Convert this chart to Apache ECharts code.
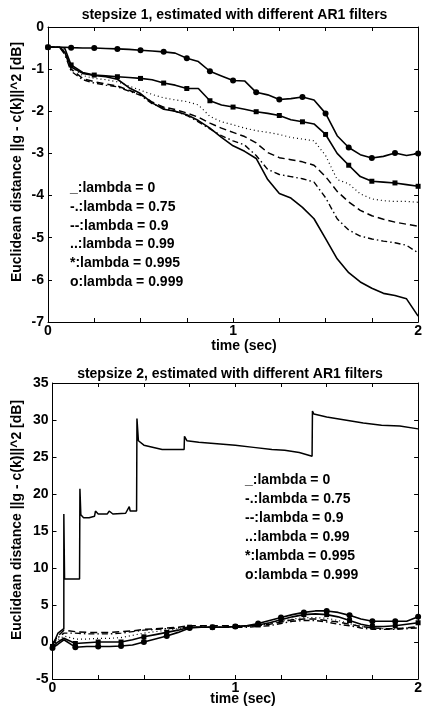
<!DOCTYPE html>
<html>
<head>
<meta charset="utf-8">
<script src="https://cdn.jsdelivr.net/npm/echarts@6/dist/echarts.min.js"></script>
<style>
  html, body { margin: 0; padding: 0; background: #fff; }
  #chart { width: 425px; height: 715px; }
</style>
</head>
<body>
<div id="chart"></div>
<script>
// ---- top panel: stepsize 1 ----
var time1 = [0, 0.0625, 0.09, 0.125, 0.1875, 0.25, 0.3125, 0.375, 0.4375, 0.5, 0.5625, 0.625, 0.6875, 0.75, 0.8125, 0.875, 0.9375,
  1.0, 1.0625, 1.125, 1.1875, 1.25, 1.3125, 1.375, 1.4375, 1.5, 1.5625, 1.625, 1.6875, 1.75, 1.8125, 1.875, 1.9375, 2.0];
var top0 = [-0.48, -0.48, -0.6, -0.95, -1.10, -1.15, -1.18, -1.24, -1.44, -1.58, -1.80, -1.95, -2.0, -2.08, -2.22, -2.40, -2.62,
  -2.82, -2.95, -3.12, -3.62, -3.95, -4.06, -4.28, -4.55, -5.02, -5.50, -5.83, -6.05, -6.20, -6.32, -6.37, -6.45, -6.86];
var top075 = [-0.48, -0.48, -0.65, -1.05, -1.25, -1.33, -1.38, -1.42, -1.52, -1.62, -1.82, -1.92, -2.0, -2.1, -2.25, -2.42, -2.58,
  -2.70, -2.80, -3.05, -3.38, -3.50, -3.55, -3.60, -3.68, -4.05, -4.55, -4.82, -4.96, -5.03, -5.08, -5.12, -5.18, -5.36];
var top09 = [-0.48, -0.48, -0.6, -1.0, -1.22, -1.30, -1.35, -1.40, -1.50, -1.60, -1.78, -1.90, -1.96, -2.04, -2.14, -2.28, -2.40,
  -2.50, -2.60, -2.75, -2.98, -3.10, -3.15, -3.20, -3.28, -3.55, -3.90, -4.15, -4.35, -4.48, -4.56, -4.63, -4.68, -4.73];
var top099 = [-0.48, -0.48, -0.55, -0.95, -1.15, -1.22, -1.25, -1.30, -1.40, -1.50, -1.60, -1.68, -1.73, -1.77, -1.85, -2.12, -2.25,
  -2.32, -2.40, -2.46, -2.50, -2.55, -2.62, -2.66, -2.70, -3.05, -3.62, -3.72, -3.96, -4.08, -4.12, -4.14, -4.14, -4.16];
var top0995 = [-0.48, -0.48, -0.5, -0.90, -1.08, -1.14, -1.16, -1.18, -1.20, -1.22, -1.25, -1.33, -1.38, -1.46, -1.46, -1.75, -1.85,
  -1.90, -1.95, -2.01, -2.05, -2.10, -2.20, -2.25, -2.30, -2.55, -3.00, -3.28, -3.55, -3.66, -3.68, -3.70, -3.74, -3.78];
var top0999 = [-0.48, -0.48, -0.48, -0.49, -0.50, -0.50, -0.51, -0.52, -0.53, -0.55, -0.57, -0.59, -0.62, -0.74, -0.82, -1.05, -1.16,
  -1.27, -1.28, -1.55, -1.61, -1.72, -1.70, -1.66, -1.73, -2.05, -2.58, -2.86, -3.03, -3.11, -3.07, -2.99, -3.05, -3.0];

// ---- bottom panel: stepsize 2 ----
var time2 = [0, 0.03, 0.0625, 0.125, 0.1875, 0.25, 0.3125, 0.375, 0.4375, 0.5, 0.5625, 0.625, 0.6875, 0.75, 0.8125, 0.875, 0.9375,
  1.0, 1.0625, 1.125, 1.1875, 1.25, 1.3125, 1.375, 1.4375, 1.5, 1.5625, 1.625, 1.6875, 1.75, 1.8125, 1.875, 1.9375, 2.0];
var bot075 = [-0.3, 0.6, 1.2, 1.2, 1.1, 1.1, 1.1, 1.2, 1.4, 1.6, 1.7, 1.8, 1.9, 2.0, 2.0, 2.0, 2.0,
  2.0, 2.0, 2.1, 2.2, 2.5, 2.8, 2.9, 2.9, 2.7, 2.4, 2.2, 1.9, 1.7, 1.7, 1.7, 1.8, 1.9];
var bot09 = [-0.2, 0.8, 1.6, 1.4, 1.3, 1.3, 1.3, 1.4, 1.5, 1.7, 1.8, 1.9, 2.0, 2.2, 2.2, 2.2, 2.2,
  2.2, 2.2, 2.2, 2.4, 2.7, 3.0, 3.1, 3.1, 2.9, 2.7, 2.4, 2.1, 1.9, 1.8, 1.8, 1.9, 2.1];
var bot099 = [-0.4, 0.3, 0.8, 0.4, 0.4, 0.5, 0.5, 0.6, 0.9, 1.2, 1.4, 1.6, 1.8, 2.0, 2.0, 2.0, 2.0,
  2.0, 2.1, 2.2, 2.5, 2.8, 3.1, 3.3, 3.3, 3.2, 2.9, 2.5, 2.1, 1.9, 1.8, 1.8, 1.9, 2.0];
var bot0995 = [-0.6, 0.0, 0.5, -0.2, -0.1, 0.0, 0.0, 0.0, 0.3, 0.7, 1.0, 1.3, 1.6, 2.0, 2.0, 2.0, 2.0,
  2.1, 2.2, 2.3, 2.6, 3.0, 3.4, 3.7, 3.8, 3.7, 3.4, 2.9, 2.4, 2.1, 2.1, 2.2, 2.4, 2.6];
var bot0999 = [-0.8, -0.3, 0.3, -0.7, -0.6, -0.6, -0.6, -0.55, -0.4, 0.0, 0.4, 0.8, 1.3, 1.9, 2.0, 2.0, 2.0,
  2.1, 2.2, 2.5, 2.9, 3.3, 3.7, 4.0, 4.2, 4.2, 4.0, 3.6, 3.1, 2.8, 2.8, 2.8, 2.8, 3.4];
// lambda = 0 diverges in panel 2, its own (step-like) time base
var time2L0 = [0, 0.03, 0.062, 0.062, 0.066, 0.148, 0.15, 0.155, 0.17, 0.2, 0.23, 0.235, 0.25, 0.3, 0.31, 0.33, 0.4, 0.42, 0.425,
  0.46, 0.462, 0.47, 0.5, 0.6, 0.72, 0.722, 0.735, 0.8, 0.9, 1.0, 1.1, 1.2, 1.27, 1.28, 1.35, 1.42, 1.422, 1.43, 1.5, 1.6, 1.7, 1.8, 1.9, 2.0];
var bot0 = [-0.5, 1.2, 1.8, 17.3, 8.5, 8.5, 20.7, 17.2, 16.8, 16.8, 17.0, 17.7, 17.3, 17.3, 17.7, 17.3, 17.4, 18.3, 17.7,
  17.7, 30.2, 27.2, 26.6, 26.0, 26.0, 27.8, 27.2, 27.0, 26.8, 26.6, 26.3, 26.0, 25.9, 26.1, 25.6, 25.1, 31.2, 30.8, 30.4, 30.0, 29.6, 29.3, 29.2, 28.8];

var legendLines = ['_:lambda = 0', '-.:lambda = 0.75', '--:lambda = 0.9', '..:lambda = 0.99', '*:lambda = 0.995', 'o:lambda = 0.999'];
var titles = ['stepsize 1, estimated with different AR1 filters', 'stepsize 2, estimated with different AR1 filters'];
var yName = 'Euclidean distance ||g - c(k)||^2 [dB]';
var xName = 'time (sec)';

var FONT = '"Liberation Sans", Arial, Helvetica, sans-serif';

function line(panel, times, vals, dash, width, marker) {
  return {
    type: 'line',
    xAxisIndex: panel * 2,
    yAxisIndex: panel * 2,
    animation: false,
    silent: true,
    data: times.map(function (t, i) {
      var on = marker && Math.abs(t * 8 - Math.round(t * 8)) < 1e-6;
      return { value: [t, vals[i]], symbol: on ? marker : 'none', symbolSize: marker === 'circle' ? 6 : 5 };
    }),
    showSymbol: true,
    itemStyle: { color: '#000' },
    lineStyle: { color: '#000', width: width, type: dash }
  };
}

function xAx(grid, pos, labels) {
  return {
    type: 'value', gridIndex: grid, position: pos, min: 0, max: 2, interval: 0.25,
    axisLine: { show: true, onZero: false, lineStyle: { color: '#000', width: 1 } },
    axisTick: { show: true, inside: true, length: 4, lineStyle: { color: '#000' } },
    axisLabel: {
      show: labels, margin: 2, color: '#000', fontFamily: FONT, fontSize: 14, fontWeight: 'bold',
      formatter: function (v) { return Math.abs(v - Math.round(v)) < 1e-9 ? String(Math.round(v)) : ''; }
    },
    splitLine: { show: false }
  };
}
function yAx(grid, pos, labels, min, max, step, showLine) {
  return {
    type: 'value', gridIndex: grid, position: pos, min: min, max: max, interval: step,
    axisLine: { show: showLine, onZero: false, lineStyle: { color: '#000', width: 1 } },
    axisTick: { show: true, inside: true, length: 4, lineStyle: { color: '#000' } },
    axisLabel: { show: labels, margin: 4, color: '#000', fontFamily: FONT, fontSize: 14, fontWeight: 'bold' },
    splitLine: { show: false }
  };
}

function txt(x, y, s, align, rot) {
  return {
    type: 'text', x: x, y: y, rotation: rot || 0, silent: true,
    style: { text: s, fill: '#000', font: 'bold 14px ' + FONT, align: align, verticalAlign: 'middle' }
  };
}

var graphics = [
  txt(234.5, 15, titles[0], 'center'),
  txt(230, 374, titles[1], 'center'),
  txt(17, 162, yName, 'center', Math.PI / 2),
  txt(17, 520, yName, 'center', Math.PI / 2),
  txt(244, 346, xName, 'center'),
  txt(243, 699, xName, 'center')
];
legendLines.forEach(function (s, i) {
  graphics.push(txt(70, 188.3 + i * 18.7, s, 'left'));
  graphics.push(txt(245, 480 + i * 19, s, 'left'));
});

var chart = echarts.init(document.getElementById('chart'), null, { renderer: 'canvas' });
chart.setOption({
  backgroundColor: '#fff',
  animation: false,
  grid: [
    { left: 48, top: 27, width: 374, height: 295 },
    { left: 52.5, top: 383, width: 373.5, height: 296 }
  ],
  xAxis: [xAx(0, 'bottom', true), xAx(0, 'top', false), xAx(1, 'bottom', true), xAx(1, 'top', false)],
  yAxis: [yAx(0, 'left', true, -7, 0, 1, true), yAx(0, 'right', false, -7, 0, 1, true),
          yAx(1, 'left', true, -5, 35, 5, true), yAx(1, 'right', false, -5, 35, 5, true)],
  graphic: graphics,
  series: [
    line(0, time1, top0, 'solid', 1.6, null),
    line(0, time1, top075, [6, 3, 1.5, 3], 1.4, null),
    line(0, time1, top09, [7, 4], 1.5, null),
    line(0, time1, top099, [1, 3], 1.2, null),
    line(0, time1, top0995, 'solid', 1.6, 'rect'),
    line(0, time1, top0999, 'solid', 1.6, 'circle'),
    line(1, time2L0, bot0, 'solid', 1.5, null),
    line(1, time2, bot075, [6, 3, 1.5, 3], 1.4, null),
    line(1, time2, bot09, [7, 4], 1.5, null),
    line(1, time2, bot099, [1, 3], 1.2, null),
    line(1, time2, bot0995, 'solid', 1.6, 'rect'),
    line(1, time2, bot0999, 'solid', 1.6, 'circle')
  ]
});
</script>
</body>
</html>
